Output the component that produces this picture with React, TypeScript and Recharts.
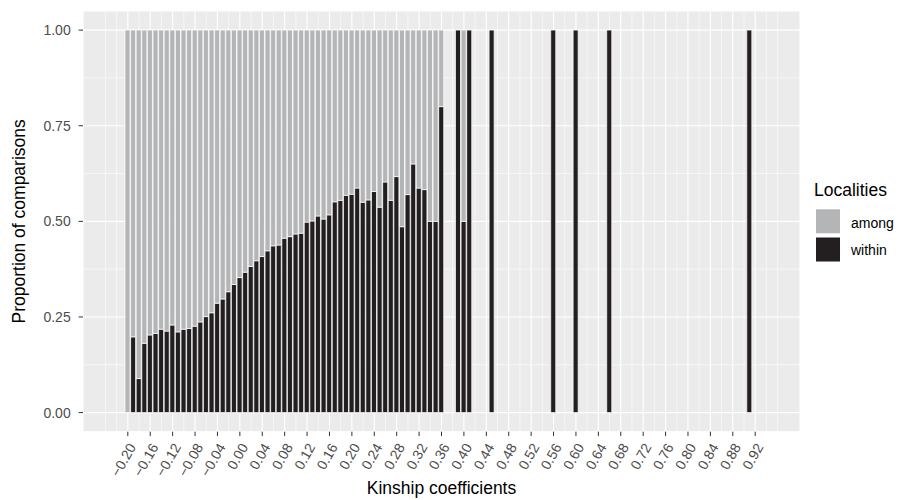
import { BarChart, Bar, XAxis, YAxis, CartesianGrid } from "recharts";

// kinship coefficient of each bin (bars are 0.01 wide)
const kinship = [
  -0.2, -0.19, -0.18, -0.17, -0.16, -0.15, -0.14, -0.13, -0.12, -0.11,
  -0.1, -0.09, -0.08, -0.07, -0.06, -0.05, -0.04, -0.03, -0.02, -0.01,
  0, 0.01, 0.02, 0.03, 0.04, 0.05, 0.06, 0.07, 0.08, 0.09,
  0.1, 0.11, 0.12, 0.13, 0.14, 0.15, 0.16, 0.17, 0.18, 0.19,
  0.2, 0.21, 0.22, 0.23, 0.24, 0.25, 0.26, 0.27, 0.28, 0.29,
  0.3, 0.31, 0.32, 0.33, 0.34, 0.35, 0.36,
  0.39, 0.4, 0.41, 0.45, 0.56, 0.6, 0.66, 0.91,
];

// proportion of comparisons within localities for each bin
const within = [
  0, 0.198, 0.089, 0.181, 0.203, 0.207, 0.218, 0.213, 0.229, 0.211,
  0.218, 0.22, 0.226, 0.237, 0.251, 0.261, 0.286, 0.297, 0.316, 0.335,
  0.353, 0.367, 0.382, 0.397, 0.408, 0.423, 0.436, 0.438, 0.456, 0.46,
  0.467, 0.469, 0.498, 0.501, 0.514, 0.506, 0.517, 0.551, 0.555, 0.568,
  0.571, 0.587, 0.55, 0.556, 0.578, 0.537, 0.603, 0.555, 0.617, 0.486,
  0.57, 0.65, 0.587, 0.583, 0.5, 0.5, 0.8,
  1, 0.5, 1, 1, 1, 1, 1, 1,
];

const xTicks = [
  -0.2, -0.16, -0.12, -0.08, -0.04, 0, 0.04, 0.08, 0.12, 0.16, 0.2, 0.24,
  0.28, 0.32, 0.36, 0.4, 0.44, 0.48, 0.52, 0.56, 0.6, 0.64, 0.68, 0.72,
  0.76, 0.8, 0.84, 0.88, 0.92,
];
const xMinor = [
  -0.24, -0.22, -0.18, -0.14, -0.1, -0.06, -0.02, 0.02, 0.06, 0.1, 0.14,
  0.18, 0.22, 0.26, 0.3, 0.34, 0.38, 0.42, 0.46, 0.5, 0.54, 0.58, 0.62,
  0.66, 0.7, 0.74, 0.78, 0.82, 0.86, 0.9, 0.94, 0.96,
];
const yTicks = [0, 0.25, 0.5, 0.75, 1];
const yMinor = [0.125, 0.375, 0.625, 0.875];

const AMONG = "#B4B5B7";
const WITHIN = "#231F20";
const FONT = "'Liberation Sans', Arial, Helvetica, sans-serif";

// position = "fill": the two groups add up to one
const data = kinship.map((k, i) => ({
  k,
  within: within[i],
  among: 1 - within[i],
}));

const fmt = (v: number) => (v < 0 ? "\u2212" : "") + Math.abs(v).toFixed(2);

function XTick({ x, y, payload }: any) {
  return (
    <g transform={`translate(${x + 8.7},${y + 11}) rotate(-60)`}>
      <text textAnchor="end" fontSize={14} fill="#4D4D4D">
        {fmt(payload.value)}
      </text>
    </g>
  );
}

export default function App() {
  return (
    <div
      style={{
        position: "absolute",
        left: 0,
        top: 0,
        width: 909,
        height: 500,
        background: "#fff",
        fontFamily: FONT,
      }}
    >
      <BarChart
        width={909}
        height={500}
        data={data}
        margin={{ top: 11, right: 109, bottom: 0, left: 0 }}
      >
        <CartesianGrid
          fill="#EBEBEB"
          stroke="#FFFFFF"
          strokeWidth={0.55}
          verticalValues={xMinor}
          horizontalValues={yMinor}
        />
        <CartesianGrid stroke="#FFFFFF" strokeWidth={1.1} />
        <XAxis
          dataKey="k"
          type="number"
          domain={[-0.28, 1.0]}
          allowDataOverflow
          ticks={xTicks}
          interval={0}
          tick={<XTick />}
          tickSize={4.4}
          tickMargin={0}
          tickLine={{ stroke: "#333333", strokeWidth: 1 }}
          axisLine={false}
          height={68.3}
          label={{
            value: "Kinship coefficients",
            position: "insideBottom",
            offset: 6,
            fontSize: 17.5,
            fill: "#000000",
          }}
        />
        <YAxis
          type="number"
          domain={[-0.05, 1.05]}
          allowDataOverflow
          ticks={yTicks}
          tickFormatter={fmt}
          tick={{ fill: "#4D4D4D", fontSize: 14 }}
          tickSize={4.4}
          tickMargin={7.9}
          tickLine={{ stroke: "#333333", strokeWidth: 1 }}
          axisLine={false}
          width={83}
          label={{
            value: "Proportion of comparisons",
            angle: -90,
            position: "insideLeft",
            offset: 18.8,
            fontSize: 17.5,
            fill: "#000000",
            style: { textAnchor: "middle" },
          }}
        />
        <Bar
          dataKey="within"
          stackId="p"
          fill={WITHIN}
          stroke="#FFFFFF"
          strokeWidth={0.7}
          barSize={5}
          isAnimationActive={false}
        />
        <Bar
          dataKey="among"
          stackId="p"
          fill={AMONG}
          stroke="#FFFFFF"
          strokeWidth={0.7}
          barSize={5}
          isAnimationActive={false}
        />
      </BarChart>
      <svg
        width={909}
        height={500}
        style={{ position: "absolute", left: 0, top: 0, pointerEvents: "none" }}
      >
        <text x={814} y={196} fontSize={17.5} fill="#000000">
          Localities
        </text>
        <rect x={816} y={209.3} width={24} height={24} fill={AMONG} />
        <rect x={816} y={237.5} width={24} height={24} fill={WITHIN} />
        <text x={851} y={227.5} fontSize={14} fill="#000000">
          among
        </text>
        <text x={851} y={255} fontSize={14} fill="#000000">
          within
        </text>
      </svg>
    </div>
  );
}
